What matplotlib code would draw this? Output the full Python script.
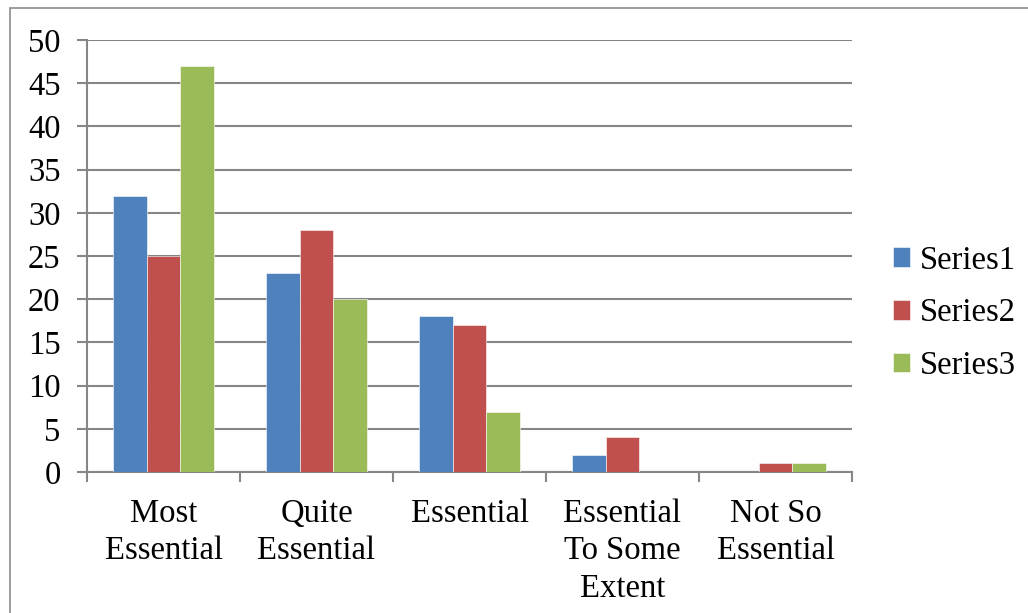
import numpy as np
import matplotlib.pyplot as plt
from matplotlib.patches import Rectangle

plt.rcParams['font.family'] = ['Liberation Serif', 'DejaVu Serif']

categories = ["Most\nEssential", "Quite\nEssential", "Essential",
              "Essential\nTo Some\nExtent", "Not So\nEssential"]
series1 = [32, 23, 18, 2, 0]
series2 = [25, 28, 17, 4, 1]
series3 = [47, 20, 7, 0, 1]
series_names = ["Series1", "Series2", "Series3"]
colors = ["#4F81BD", "#C0504D", "#9BBB59"]

fig = plt.figure(figsize=(10.28, 6.13), dpi=100)
ax = fig.add_axes([87 / 1028, 141 / 613, 765 / 1028, 432 / 613])

# outer chart frame
fig.patches.append(Rectangle((10 / 1028, -0.1), 1.2, 0.1 + 605 / 613,
                             transform=fig.transFigure, fill=False,
                             edgecolor="#8c8c8c", linewidth=1.2))

x = np.arange(len(categories))
w = 0.222
for i, (vals, name, c) in enumerate(zip([series1, series2, series3], series_names, colors)):
    ax.bar(x + (i - 1) * w, vals, width=w, color=c, label=name,
           edgecolor="white", linewidth=0.4, zorder=3)

ax.set_xlim(-0.5, len(categories) - 0.5)
ax.set_ylim(0, 50)
ax.set_yticks(range(0, 51, 5))

# major ticks mark the category boundaries, minor ticks carry the labels
ax.set_xticks(np.arange(len(categories) + 1) - 0.5)
ax.set_xticklabels([])
ax.set_xticks(x, minor=True)
ax.set_xticklabels(categories, minor=True, fontsize=23.5, linespacing=1.3)
ax.tick_params(axis="x", which="minor", length=0, pad=19)
ax.tick_params(axis="x", which="major", length=7, width=1.5, color="#868686")
ax.tick_params(axis="y", length=7, width=1.5, color="#868686", labelsize=23.5, pad=12)

ax.grid(axis="y", color="#868686", linewidth=1.5, zorder=0)
for s in ["top", "right"]:
    ax.spines[s].set_visible(False)
for s in ["left", "bottom"]:
    ax.spines[s].set_color("#868686")
    ax.spines[s].set_linewidth(1.5)

ax.legend(loc="center left", bbox_to_anchor=(1.053, 0.368), frameon=False,
          fontsize=23.5, handlelength=0.55, handleheight=0.55, handletextpad=0.3,
          labelspacing=0.68, borderaxespad=0, borderpad=0)

plt.savefig("out.png", dpi=100)
